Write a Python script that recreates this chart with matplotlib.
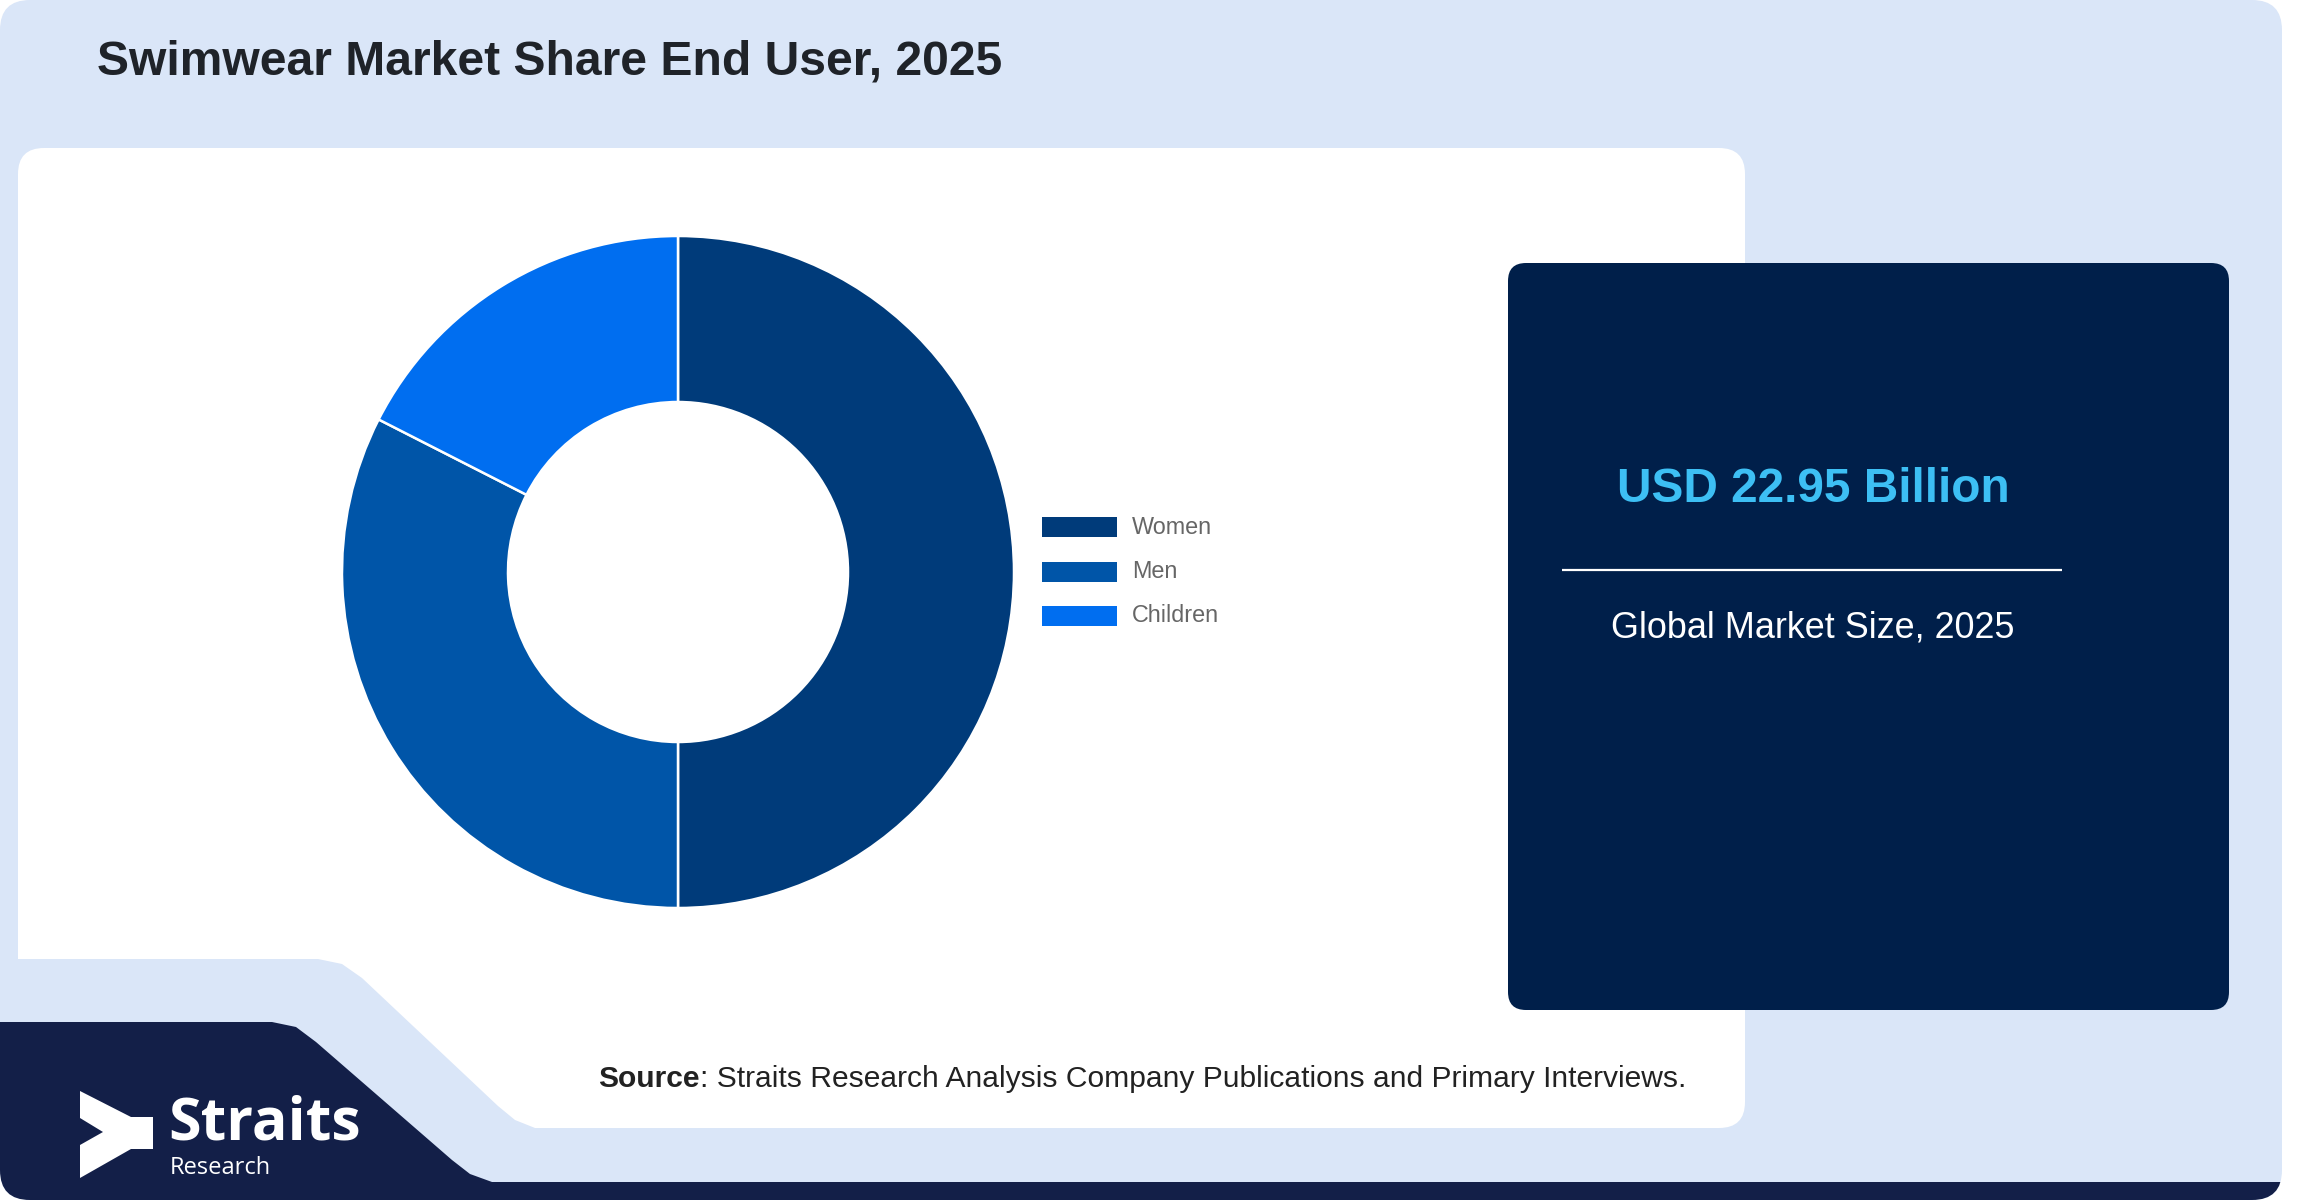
import matplotlib
matplotlib.use("Agg")
import matplotlib.pyplot as plt
from matplotlib.patches import FancyBboxPatch, Polygon, Rectangle

# ---- data ----
categories = ["Women", "Men", "Children"]
shares = [50.0, 32.5, 17.5]
slice_colors = ["#003b7a", "#0055a8", "#006ef0"]
title = "Swimwear Market Share End User, 2025"
market_value = "USD 22.95 Billion"
market_label = "Global Market Size, 2025"
source_bold = "Source"
source_rest = ": Straits Research Analysis Company Publications and Primary Interviews."

W, H = 2312, 1200
plt.rcParams['font.family'] = ['Liberation Sans', 'DejaVu Sans']
fig = plt.figure(figsize=(W / 100, H / 100), dpi=100)
fig.patch.set_facecolor("white")
ax = fig.add_axes([0, 0, 1, 1])
ax.set_xlim(0, W)
ax.set_ylim(H, 0)
ax.axis("off")

LB = "#dae6f8"
NAVY = "#131f48"

# background rounded panel
bg = FancyBboxPatch((0, 0), 2282, 1200, boxstyle="round,pad=0,rounding_size=30",
                    fc=LB, ec="none", zorder=0)
ax.add_patch(bg)

# white chart panel
wp = FancyBboxPatch((18, 148), 1745 - 18, 1128 - 148,
                    boxstyle="round,pad=0,rounding_size=26", fc="white", ec="none", zorder=1)
ax.add_patch(wp)
# notch at lower-left of white panel
notch = Polygon([(0, 959), (318, 959), (342, 964), (362, 978), (498, 1106),
                 (515, 1120), (535, 1128), (0, 1128)], closed=True, fc=LB, ec="none", zorder=2)
ax.add_patch(notch)

# navy footer
foot = Polygon([(0, 1022), (272, 1022), (296, 1027), (316, 1042), (452, 1160),
                (470, 1174), (492, 1182), (2300, 1182), (2300, 1205), (0, 1205)],
               closed=True, fc=NAVY, ec="none", zorder=2)
ax.add_patch(foot)
foot.set_clip_path(bg)

# logo arrow
arrow = Polygon([(80, 1091), (131, 1117), (153, 1117), (153, 1149), (131, 1149),
                 (80, 1178), (80, 1145), (103, 1132), (80, 1118)],
                closed=True, fc="white", ec="none", zorder=3)
ax.add_patch(arrow)
ax.text(168, 1140, "Straits", color="white", fontsize=42.5, fontweight="bold",
        family=["Open Sans", "DejaVu Sans"], va="baseline", ha="left", zorder=4)
ax.text(170, 1174, "Research", color="white", fontsize=17,
        family=["Open Sans", "DejaVu Sans"], va="baseline", ha="left", zorder=4)

# title
ax.text(97, 75, title, fontsize=34.6, fontweight="bold", color="#1f2329",
        va="baseline", ha="left", zorder=4)

# dark card
card = FancyBboxPatch((1508, 263), 2229 - 1508, 1010 - 263,
                      boxstyle="round,pad=0,rounding_size=18", fc="#001f4a", ec="none", zorder=3)
ax.add_patch(card)
ax.text(1813, 502, market_value, fontsize=34.4, fontweight="bold", color="#3dbff4",
        ha="center", va="baseline", zorder=4)
ax.plot([1562, 2062], [570, 570], color="white", lw=1.6, zorder=4, solid_capstyle="butt")
ax.text(1813, 638, market_label, fontsize=25.9, color="white",
        ha="center", va="baseline", zorder=4)

# source
t1 = ax.text(598, 1087, source_bold, fontsize=21.6, fontweight="bold", color="#222222",
             ha="left", va="baseline", zorder=4)
fig.canvas.draw()
r = fig.canvas.get_renderer()
bb = t1.get_window_extent(renderer=r)
x_end = ax.transData.inverted().transform((bb.x1, bb.y0))[0]
ax.text(x_end, 1087, source_rest, fontsize=21.6, color="#222222",
        ha="left", va="baseline", zorder=4)

# legend (manual)
leg_y = [527, 572, 616]
for lab, col, yy in zip(categories, slice_colors, leg_y):
    ax.add_patch(Rectangle((1042, yy - 10), 75, 20, fc=col, ec="none", zorder=4))
    ax.text(1132, yy, lab, fontsize=16.8, color="#666666", ha="left", va="center", zorder=4)

# donut
cx, cy, R, r_in = 678, 572, 336, 170
pax = fig.add_axes([(cx - R) / W, (H - cy - R) / H, 2 * R / W, 2 * R / H])
pax.pie(shares, colors=slice_colors, startangle=90, counterclock=False, radius=1,
        wedgeprops=dict(width=1 - r_in / R, edgecolor="white", linewidth=1.8))
pax.set_xlim(-1, 1)
pax.set_ylim(-1, 1)
pax.set_aspect("equal")
pax.axis("off")

fig.savefig("out.png", dpi=100, facecolor="white")
